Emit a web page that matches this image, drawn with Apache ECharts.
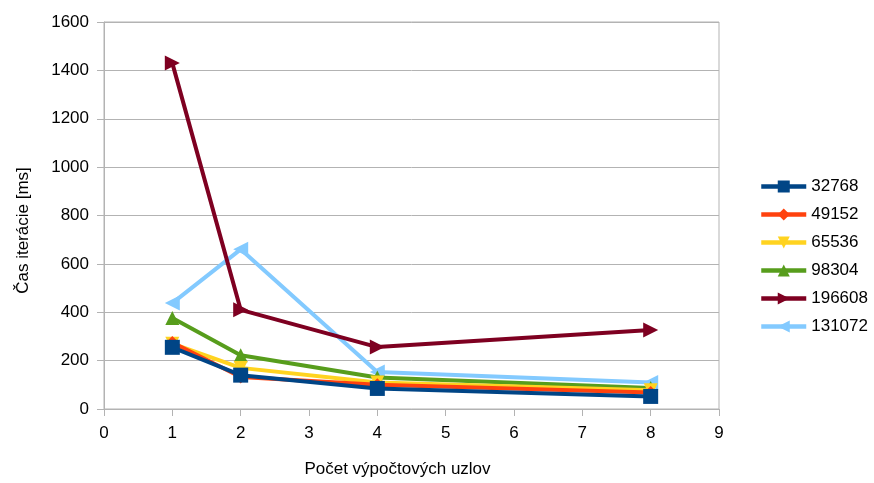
<!DOCTYPE html>
<html>
<head>
<meta charset="utf-8">
<script src="https://cdn.jsdelivr.net/npm/echarts@6/dist/echarts.min.js"></script>
<style>
  html, body { margin: 0; padding: 0; background: #fff; }
  #chart { width: 874px; height: 483px; }
</style>
</head>
<body>
<div id="chart"></div>
<script>
// Number of compute nodes
const nodes = [1, 2, 4, 8];

// Iteration time [ms] per problem size
const s32768  = [255, 140, 85, 52];
const s49152  = [275, 132, 100, 68];
const s65536  = [270, 170, 110, 78];
const s98304  = [376, 222, 130, 87];
const s196608 = [1430, 410, 256, 327];
const s131072 = [438, 660, 153, 110];

const seriesNames = ['32768', '49152', '65536', '98304', '196608', '131072'];
const seriesData = [s32768, s49152, s65536, s98304, s196608, s131072];
const seriesColors = ['#004586', '#ff420e', '#ffd320', '#579d1c', '#7e0021', '#83caff'];
const seriesSymbols = ['rect', 'diamond', 'triangle', 'triangle', 'triangle', 'triangle'];
const seriesRotate = [0, 0, 180, 0, -90, 90];
const seriesSizes = [15, 13, 14, 14, 15, 15];

const font = '"Liberation Sans", Arial, sans-serif';
const fs = 17;

const series = seriesNames.map((name, i) => ({
  name: name,
  type: 'line',
  data: nodes.map((n, j) => [n, seriesData[i][j]]),
  symbol: seriesSymbols[i],
  symbolRotate: seriesRotate[i],
  symbolSize: seriesSizes[i],
  showAllSymbol: true,
  lineStyle: { width: 4, color: seriesColors[i] },
  itemStyle: { color: seriesColors[i] },
  z: 10 - i,
  animation: false
}));

const chart = echarts.init(document.getElementById('chart'));
chart.setOption({
  animation: false,
  grid: {
    left: 104, right: 155, top: 22, bottom: 74,
    show: true, borderColor: '#b3b3b3', borderWidth: 1
  },
  xAxis: {
    type: 'value',
    min: 0, max: 9, interval: 1,
    name: 'Počet výpočtových uzlov',
    nameLocation: 'middle',
    nameGap: 52,
    nameTextStyle: { fontFamily: font, fontSize: fs, color: '#000', padding: [0, 28, 0, 0] },
    axisLine: { lineStyle: { color: '#b3b3b3' } },
    axisTick: { show: true, length: 7, lineStyle: { color: '#b3b3b3' } },
    axisLabel: { fontFamily: font, fontSize: fs, color: '#000', margin: 16 },
    splitLine: { show: false }
  },
  yAxis: {
    type: 'value',
    min: 0, max: 1600, interval: 200,
    name: 'Čas iterácie [ms]',
    nameLocation: 'middle',
    nameGap: 72,
    nameTextStyle: { fontFamily: font, fontSize: fs, color: '#000', padding: [0, 30, 0, 0] },
    axisLine: { show: true, lineStyle: { color: '#b3b3b3' } },
    axisTick: { show: true, length: 7, lineStyle: { color: '#b3b3b3' } },
    axisLabel: { fontFamily: font, fontSize: fs, color: '#000', margin: 15, formatter: (v) => String(v) },
    splitLine: { show: true, lineStyle: { color: '#b3b3b3' } }
  },
  legend: {
    orient: 'vertical',
    left: 754, top: 173,
    itemWidth: 45, itemHeight: 15,
    itemGap: 11,
    lineStyle: { width: 4.5 },
    textStyle: { fontFamily: font, fontSize: fs, color: '#000' },
    data: seriesNames
  },
  series: series
});
</script>
</body>
</html>
